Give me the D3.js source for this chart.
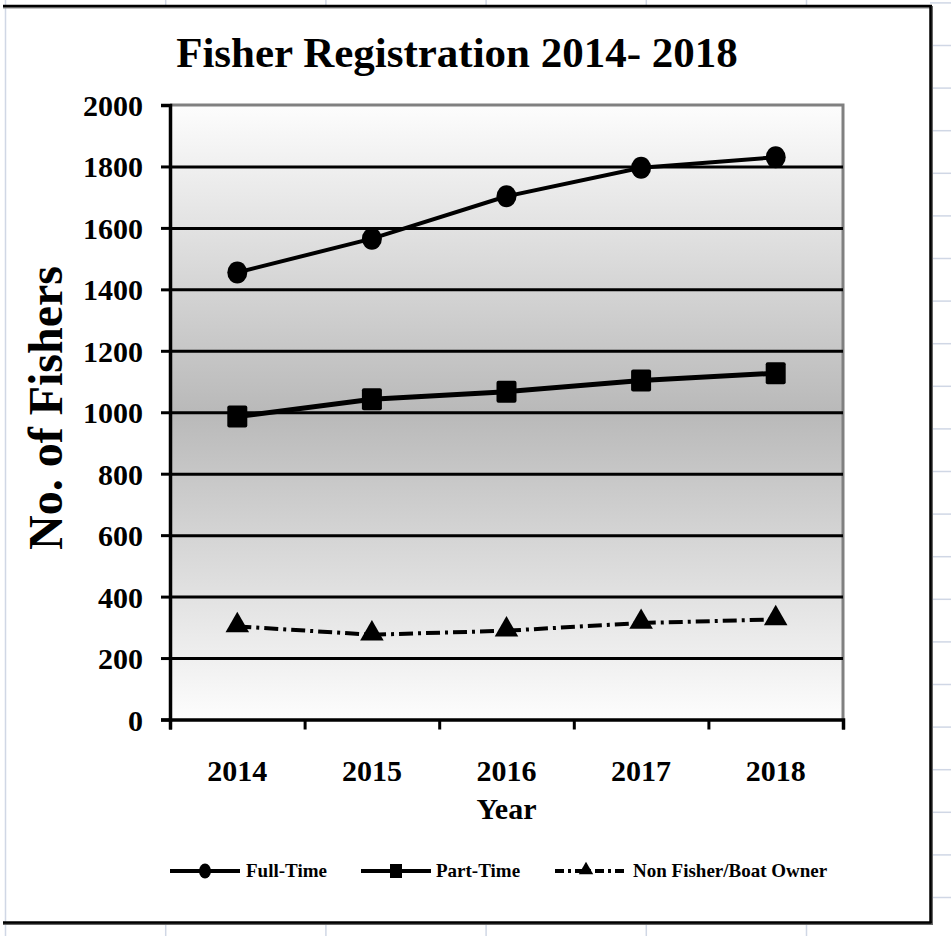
<!DOCTYPE html>
<html>
<head>
<meta charset="utf-8">
<script src="https://cdn.jsdelivr.net/npm/d3@7"></script>
<style>
  html, body { margin: 0; padding: 0; background: #ffffff; }
  svg { display: block; }
  text { font-family: "Liberation Serif", "Times New Roman", "DejaVu Serif", serif; font-weight: bold; fill: #000; }
</style>
</head>
<body>
<svg id="chart" width="951" height="936"></svg>
<script>
// ---- data ----
const years = ["2014", "2015", "2016", "2017", "2018"];
const fullTime = [1455, 1565, 1703, 1796, 1830];
const partTime = [986, 1042, 1067, 1103, 1127];
const nonFisher = [303, 276, 289, 314, 326];
const yTicks = [0, 200, 400, 600, 800, 1000, 1200, 1400, 1600, 1800, 2000];
const seriesNames = ["Full-Time", "Part-Time", "Non Fisher/Boat Owner"];
const titleText = "Fisher Registration 2014- 2018";
const xTitle = "Year";
const yTitle = "No. of Fishers";

(function () {
const W = 951, H = 936;
const svg = d3.select("#chart");

// ---- spreadsheet background grid ----
const sheet = svg.append("g").attr("stroke", "#d0d7e5").attr("stroke-width", 1.5);
d3.range(6).forEach(i => {
  const gx = 5.5 + i * 160.2;
  sheet.append("line").attr("x1", gx).attr("x2", gx).attr("y1", 0).attr("y2", H);
});
d3.range(-1, 22).forEach(i => {
  const gy = 45.5 + i * 42.6;
  sheet.append("line").attr("x1", 930).attr("x2", W).attr("y1", gy).attr("y2", gy);
});

// ---- chart box ----
svg.append("rect").attr("x", 7).attr("y", 6).attr("width", 923).attr("height", 916).attr("fill", "#fff");
svg.append("line").attr("x1", 3).attr("x2", 932).attr("y1", 7.5).attr("y2", 7.5).attr("stroke", "#888").attr("stroke-width", 2);
svg.append("line").attr("x1", 3).attr("x2", 932).attr("y1", 6).attr("y2", 6).attr("stroke", "#000").attr("stroke-width", 2.5);
svg.append("line").attr("x1", 932).attr("x2", 932).attr("y1", 6).attr("y2", 924).attr("stroke", "#666").attr("stroke-width", 2);
svg.append("line").attr("x1", 930.5).attr("x2", 930.5).attr("y1", 5).attr("y2", 923).attr("stroke", "#000").attr("stroke-width", 2.5);
svg.append("line").attr("x1", 3).attr("x2", 933).attr("y1", 924).attr("y2", 924).attr("stroke", "#666").attr("stroke-width", 2);
svg.append("line").attr("x1", 3).attr("x2", 931.5).attr("y1", 922.5).attr("y2", 922.5).attr("stroke", "#000").attr("stroke-width", 2.5);

// ---- scales ----
const pLeft = 170, pRight = 843, pTop = 105, pBottom = 719.5;
const x = d3.scaleBand().domain(years).range([pLeft, pRight]);
const xb = d3.scaleLinear().domain([0, years.length]).range([pLeft, pRight]);
const y = d3.scaleLinear().domain([0, 2000]).range([pBottom, pTop]);

// ---- plot background gradient ----
const defs = svg.append("defs");
const grad = defs.append("linearGradient").attr("id", "bg").attr("x1", 0).attr("x2", 0).attr("y1", 0).attr("y2", 1);
grad.append("stop").attr("offset", "0%").attr("stop-color", "#fdfdfd");
grad.append("stop").attr("offset", "50%").attr("stop-color", "#b9b9b9");
grad.append("stop").attr("offset", "100%").attr("stop-color", "#fdfdfd");
svg.append("rect").attr("x", pLeft).attr("y", pTop).attr("width", pRight - pLeft).attr("height", pBottom - pTop).attr("fill", "url(#bg)");

// plot area border (top & right, gray)
svg.append("path")
  .attr("d", `M${pLeft},${pTop}H${pRight}V${pBottom}`)
  .attr("fill", "none").attr("stroke", "#808080").attr("stroke-width", 3);

// ---- gridlines ----
const grid = svg.append("g").attr("transform", `translate(${pLeft},0)`)
  .call(d3.axisLeft(y).tickValues(yTicks.filter(v => v > 0 && v < 2000)).tickSize(-(pRight - pLeft)).tickFormat(""));
grid.select(".domain").remove();
grid.selectAll("line").attr("stroke", "#000").attr("stroke-width", 3);

// ---- y axis ----
const yAxis = svg.append("g").attr("transform", `translate(${pLeft},0)`)
  .call(d3.axisLeft(y).tickValues(yTicks).tickFormat(d3.format("d")).tickSize(9).tickPadding(18));
yAxis.select(".domain").attr("stroke", "#000").attr("stroke-width", 3.5);
yAxis.selectAll("line").attr("stroke", "#000").attr("stroke-width", 3);
yAxis.selectAll("text").style("font-size", "30px").attr("dy", "0.35em");

// ---- x axis ----
const xAxis = svg.append("g").attr("transform", `translate(0,${pBottom})`)
  .call(d3.axisBottom(xb).tickValues(d3.range(years.length + 1)).tickSize(10).tickFormat(""));
xAxis.select(".domain").attr("stroke", "#000").attr("stroke-width", 3.5);
xAxis.selectAll("line").attr("stroke", "#000").attr("stroke-width", 3);
const xLab = svg.append("g").attr("transform", `translate(0,${pBottom})`)
  .call(d3.axisBottom(x).tickSize(0).tickPadding(51));
xLab.select(".domain").remove();
xLab.selectAll("text").style("font-size", "30px").attr("dy", "0.35em");

// ---- titles ----
svg.append("text").attr("x", 457).attr("y", 67).attr("text-anchor", "middle")
  .style("font-size", "43px").text(titleText);
svg.append("text").attr("x", (pLeft + pRight) / 2).attr("y", 819).attr("text-anchor", "middle")
  .style("font-size", "30px").text(xTitle);
svg.append("text").attr("transform", "translate(62,408) rotate(-90)").attr("text-anchor", "middle")
  .style("font-size", "48px").text(yTitle);

// ---- series ----
const cx = (d, i) => x(years[i]) + x.bandwidth() / 2;
const line = d3.line().x((d, i) => cx(d, i)).y(d => y(d));

svg.append("path").datum(fullTime).attr("d", line)
  .attr("fill", "none").attr("stroke", "#000").attr("stroke-width", 4);
svg.append("path").datum(partTime).attr("d", line)
  .attr("fill", "none").attr("stroke", "#000").attr("stroke-width", 5);
svg.append("path").datum(nonFisher).attr("d", line)
  .attr("fill", "none").attr("stroke", "#000").attr("stroke-width", 4).attr("stroke-dasharray", "14,5,3,5");

svg.append("g").selectAll("ellipse").data(fullTime).join("ellipse")
  .attr("cx", cx).attr("cy", d => y(d)).attr("rx", 10).attr("ry", 11).attr("fill", "#000");
svg.append("g").selectAll("rect").data(partTime).join("rect")
  .attr("x", (d, i) => cx(d, i) - 10).attr("y", d => y(d) - 11).attr("width", 20).attr("height", 22)
  .attr("rx", 2).attr("fill", "#000");
const tri = d3.symbol().type(d3.symbolTriangle).size(240);
svg.append("g").selectAll("path").data(nonFisher).join("path")
  .attr("d", tri).attr("transform", (d, i) => `translate(${cx(d, i)},${y(d) - 1})`).attr("fill", "#000");

// ---- legend ----
const ly = 871;
const leg = svg.append("g");
const legendItems = [
  { name: seriesNames[0], x0: 170, x1: 240, tx: 246, marker: "circle", dash: null },
  { name: seriesNames[1], x0: 361, x1: 431, tx: 436, marker: "square", dash: null },
  { name: seriesNames[2], x0: 555, x1: 627, tx: 633, marker: "triangle", dash: "9,4,3,4" }
];
legendItems.forEach(it => {
  leg.append("line").attr("x1", it.x0).attr("x2", it.x1).attr("y1", ly).attr("y2", ly)
    .attr("stroke", "#000").attr("stroke-width", 4).attr("stroke-dasharray", it.dash);
  const mx = (it.x0 + it.x1) / 2;
  if (it.marker === "circle") {
    leg.append("ellipse").attr("cx", mx).attr("cy", ly).attr("rx", 6).attr("ry", 7.5).attr("fill", "#000");
  } else if (it.marker === "square") {
    leg.append("rect").attr("x", mx - 6).attr("y", ly - 7).attr("width", 12).attr("height", 14).attr("fill", "#000");
  } else {
    leg.append("path").attr("d", d3.symbol().type(d3.symbolTriangle).size(90))
      .attr("transform", `translate(${mx - 5},${ly - 1})`).attr("fill", "#000");
  }
  leg.append("text").attr("x", it.tx).attr("y", ly + 6).style("font-size", "19px").text(it.name);
});
})();
</script>
</body>
</html>
